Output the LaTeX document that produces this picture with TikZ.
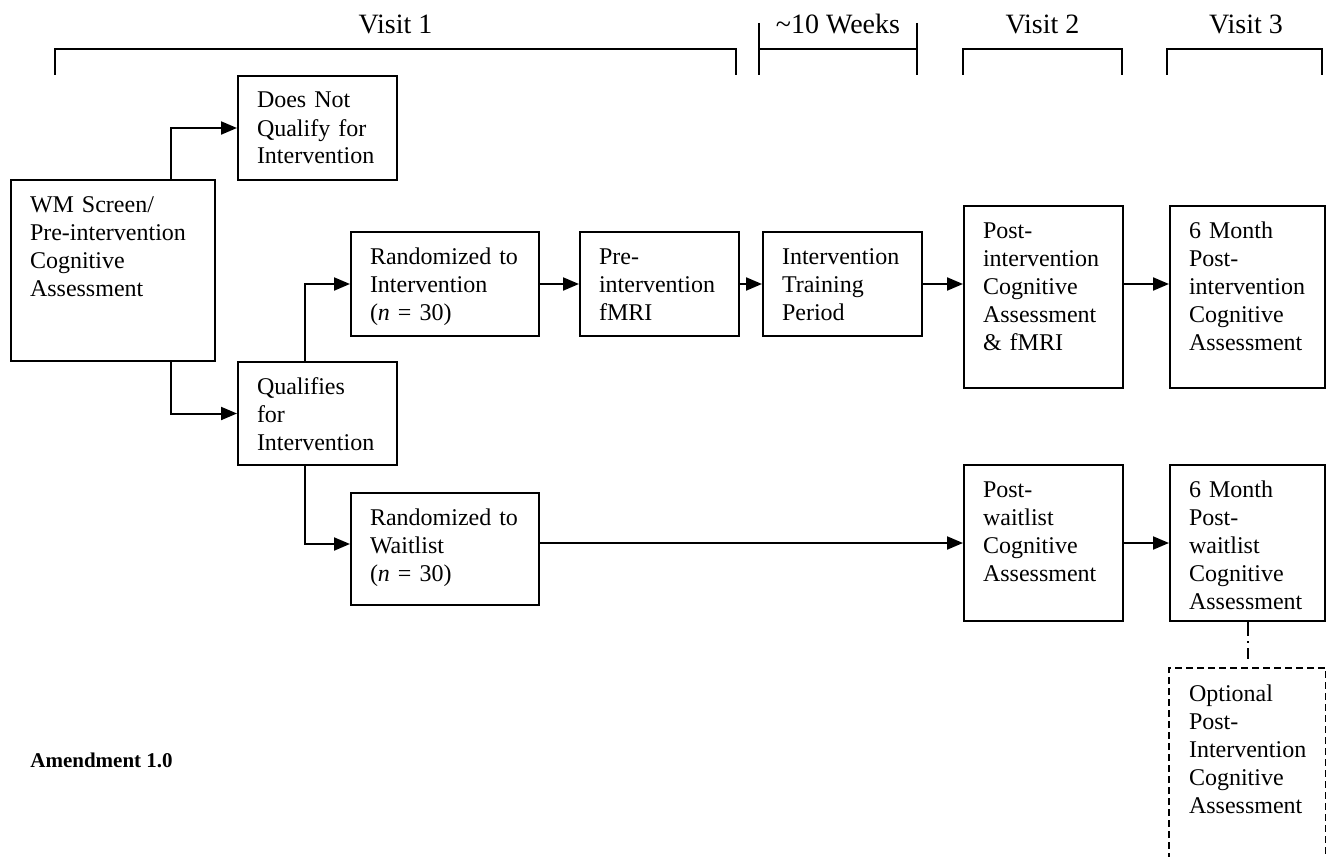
\documentclass[tikz,border=0pt]{standalone}
\usepackage{fontspec}
\setmainfont{Liberation Serif}
\usetikzlibrary{arrows.meta,positioning}
\tikzstyle{stage}=[
	rectangle,
	draw,
	line width=1pt,
	anchor=north west,
	align=left,
	inner xsep=9.5pt,
	inner ysep=7pt,
	text height=9pt,
	text width=60.5pt,
	font=\fontsize{12pt}{14pt}\selectfont
]
\tikzstyle{wide}=[text width=75pt]
\tikzstyle{last}=[text width=58.5pt]
\tikzstyle{flow}=[
	-{Triangle[length=8pt,width=6.5pt]},
	line width=1pt
]
\tikzstyle{span}=[line width=1pt]
\tikzstyle{optbox}=[line width=1pt, dash pattern=on 3.5pt off 2pt]
\tikzstyle{optlink}=[
	line width=1pt,
	dash pattern=on 7pt off 2.5pt on 1pt off 2.5pt,
	shorten >=4.5pt
]
\tikzstyle{heading}=[anchor=base, inner sep=0pt, font=\fontsize{14pt}{16pt}\selectfont]

\begin{document}
\begin{tikzpicture}[x=0.5pt,y=-0.5pt]
\useasboundingbox (0,0) rectangle (1326,856);
\node [heading] (visit1) at (395.5,34) {Visit 1};
\node [heading] (weeks) at (838,34) {\textasciitilde10 Weeks};
\node [heading] (visit2) at (1042.5,34) {Visit 2};
\node [heading] (visit3) at (1246,34) {Visit 3};
\draw [span] (55,75) |- (736,49) -- (736,75);
\draw [span] (759,23) -- (759,75) (917,23) -- (917,75) (759,49) -- (917,49);
\draw [span] (963,75) |- (1122,49) -- (1122,75);
\draw [span] (1167,75) |- (1322,49) -- (1322,75);

\node [stage, text width=83pt, text depth=67.5pt] (screen) at (10,179) {WM Screen/\\Pre-intervention\\Cognitive\\Assessment};
\node [stage, text depth=29pt] (notqualify) at (237,75) {Does Not\\Qualify for\\Intervention};
\node [stage, text depth=28.5pt] (qualify) at (237,361) {Qualifies\\for\\Intervention};
\node [stage, wide, text depth=29pt] (randint) at (350,231) {Randomized to\\Intervention\\(\textit{n} = 30)};
\node [stage, text depth=29pt] (prefmri) [right=19.5pt of randint.north east, anchor=north west] {Pre-\\intervention\\fMRI};
\node [stage, text depth=29pt] (training) [right=11pt of prefmri.north east, anchor=north west] {Intervention\\Training\\Period};
\node [stage, text depth=68pt] (postint) at (963,205) {Post-\\intervention\\Cognitive\\Assessment\\\& fMRI};
\node [stage, last, text depth=68pt] (sixint) [right=22.5pt of postint.north east, anchor=north west] {6 Month\\Post-\\intervention\\Cognitive\\Assessment};
\node [stage, wide, text depth=33pt] (randwait) [below=77.5pt of randint.south west, anchor=north west] {Randomized to\\Waitlist\\(\textit{n} = 30)};
\node [stage, text depth=55pt] (postwait) at (963,464) {Post-\\waitlist\\Cognitive\\Assessment};
\node [stage, last, text depth=55pt] (sixwait) [right=22.5pt of postwait.north east, anchor=north west] {6 Month\\Post-\\waitlist\\Cognitive\\Assessment};
\node [stage, last, draw=none, text depth=72pt] (optional) [below=23pt of sixwait.south west, anchor=north west] {Optional\\Post-\\Intervention\\Cognitive\\Assessment};
\draw [optbox] (optional.south west) |- (optional.north east) -- (optional.south east);

\node [anchor=base west, inner sep=0pt, font=\fontsize{10.5pt}{12pt}\selectfont\bfseries] (amendment) at (30,767) {Amendment 1.0};

\draw [flow] ([xshift=-22.5pt]screen.north east) |- (notqualify.west);
\draw [flow] ([xshift=-22.5pt]screen.south east) |- (qualify.west);
\draw [flow] ([xshift=34pt]qualify.north west) |- (randint.west);
\draw [flow] ([xshift=34pt]qualify.south west) |- ([yshift=2.5pt]randwait.west);
\draw [flow] (randint) -- (prefmri);
\draw [flow] (prefmri) -- (training);
\draw [flow] (training.east) -- (training.east -| postint.west);
\draw [flow] (postint.east |- training.east) -- (sixint.west |- training.east);
\draw [flow] (randwait.east |- postwait.west) -- (postwait.west);
\draw [flow] (postwait) -- (sixwait);
\draw [optlink] (sixwait) -- (optional);
\end{tikzpicture}
\end{document}
